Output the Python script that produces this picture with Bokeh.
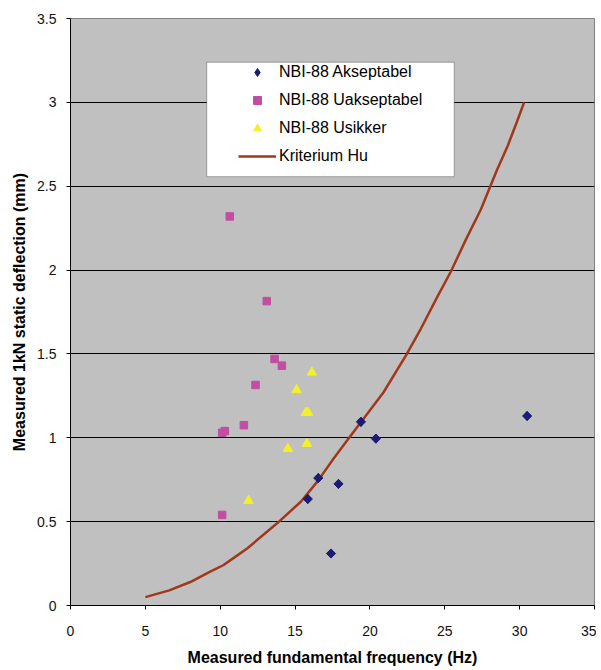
from bokeh.plotting import figure
from bokeh.models import Range1d, FixedTicker, Legend, LegendItem, BoxAnnotation
from bokeh.embed import file_html
from bokeh.resources import INLINE
import numpy as np

# ---- data ----
akseptabel_x = [30.5, 19.4, 20.4, 16.55, 17.9, 15.85, 17.4]
akseptabel_y = [1.13, 1.095, 0.995, 0.76, 0.725, 0.635, 0.31]

uakseptabel_x = [10.64, 13.11, 13.63, 14.12, 12.36, 11.58, 10.13, 10.31, 10.13]
uakseptabel_y = [2.32, 1.815, 1.47, 1.43, 1.315, 1.075, 1.03, 1.04, 0.54]

usikker_x = [16.12, 15.1, 15.72, 15.87, 15.79, 14.52, 11.89]
usikker_y = [1.39, 1.285, 1.15, 1.15, 0.965, 0.935, 0.625]

kriterium_x = [5.0, 6.6, 8.0, 9.3, 10.2, 11.0, 11.8, 13.8, 15.4, 16.5, 17.6, 18.7,
               19.8, 20.9, 22.4, 23.4, 24.5, 25.4, 26.4, 27.4, 28.5, 29.2, 29.8, 30.3]
kriterium_y = [0.05, 0.09, 0.14, 0.20, 0.24, 0.29, 0.34, 0.49, 0.62, 0.74, 0.88, 1.01,
               1.14, 1.27, 1.49, 1.65, 1.84, 1.99, 2.18, 2.36, 2.60, 2.74, 2.88, 3.0]

x_ticks = [0, 5, 10, 15, 20, 25, 30, 35]
x_tick_labels = ["0", "5", "10", "15", "20", "25", "30", "35"]
y_ticks = [0, 0.5, 1, 1.5, 2, 2.5, 3, 3.5]
y_tick_labels = ["0", "0.5", "1", "1.5", "2", "2.5", "3", "3.5"]

series_names = ["NBI-88 Akseptabel", "NBI-88 Uakseptabel", "NBI-88 Usikker", "Kriterium Hu"]
x_label = "Measured fundamental frequency (Hz)"
y_label = "Measured 1kN static deflection (mm)"

# ---- figure ----
FONT = "Liberation Sans"
p = figure(width=596, height=668, output_backend="svg", toolbar_location=None,
           x_range=Range1d(0, 35), y_range=Range1d(0, 3.5),
           min_border_left=70, min_border_right=2, min_border_top=18, min_border_bottom=60)
p.background_fill_color = "#C0C0C0"
p.border_fill_color = "white"
p.outline_line_color = "#808080"
p.outline_line_width = 1

p.xgrid.visible = False
p.ygrid.ticker = FixedTicker(ticks=y_ticks[1:-1])
p.ygrid.grid_line_color = "black"
p.ygrid.grid_line_width = 1

for ax, ticks, labels in ((p.xaxis[0], x_ticks, x_tick_labels), (p.yaxis[0], y_ticks, y_tick_labels)):
    ax.ticker = FixedTicker(ticks=ticks)
    ax.major_label_overrides = {t: l for t, l in zip(ticks, labels)}
    ax.minor_tick_line_color = None
    ax.major_tick_in = 0
    ax.major_tick_out = 4
    ax.major_tick_line_color = "black"
    ax.axis_line_color = "black"
    ax.major_label_text_font = FONT
    ax.major_label_text_font_size = "14px"
    ax.major_label_text_color = "#111111"
    ax.axis_label_text_font = FONT
    ax.axis_label_text_font_size = "16px"
    ax.axis_label_text_font_style = "bold"
    ax.axis_label_text_color = "black"

p.xaxis.axis_label = x_label
p.yaxis.axis_label = y_label
p.xaxis.major_label_standoff = 16
p.xaxis.axis_label_standoff = 10
p.yaxis.major_label_standoff = 10
p.yaxis.axis_label_standoff = 6

# ---- glyphs ----
NAVY = "#1C1C74"
r_line = p.line(kriterium_x, kriterium_y, line_color="#A0381C", line_width=2.5)
# diamond glyph (used for the legend) hidden under the rotated squares
r_a_leg = p.scatter(akseptabel_x, akseptabel_y, marker="diamond", size=9,
                    fill_color=NAVY, line_color=NAVY)
r_a = p.scatter(akseptabel_x, akseptabel_y, marker="square", angle=np.pi / 4, size=6.5,
                fill_color=NAVY, line_color=NAVY)
r_u = p.scatter(uakseptabel_x, uakseptabel_y, marker="square", size=7.5,
                fill_color="#C04FA2", line_color="#C04FA2")
r_s = p.scatter(usikker_x, usikker_y, marker="triangle", size=9.5,
                fill_color="#F3F02A", line_color="#F3F02A")

# legend box
box = BoxAnnotation(left=9.1, right=25.63, bottom=2.557, top=3.239,
                    fill_color="white", fill_alpha=1.0, line_color="black", line_width=1)
p.add_layout(box)

legend = Legend(items=[LegendItem(label=series_names[0], renderers=[r_a_leg]),
                       LegendItem(label=series_names[1], renderers=[r_u]),
                       LegendItem(label=series_names[2], renderers=[r_s]),
                       LegendItem(label=series_names[3], renderers=[r_line])],
                location=(168, 439), padding=0, margin=0, spacing=8,
                glyph_width=38, glyph_height=20, label_height=20, label_standoff=3,
                label_text_font=FONT, label_text_font_size="16px", label_text_color="black",
                background_fill_alpha=0, border_line_alpha=0)
p.add_layout(legend)

open("out.html", "w").write(file_html(p, INLINE))
